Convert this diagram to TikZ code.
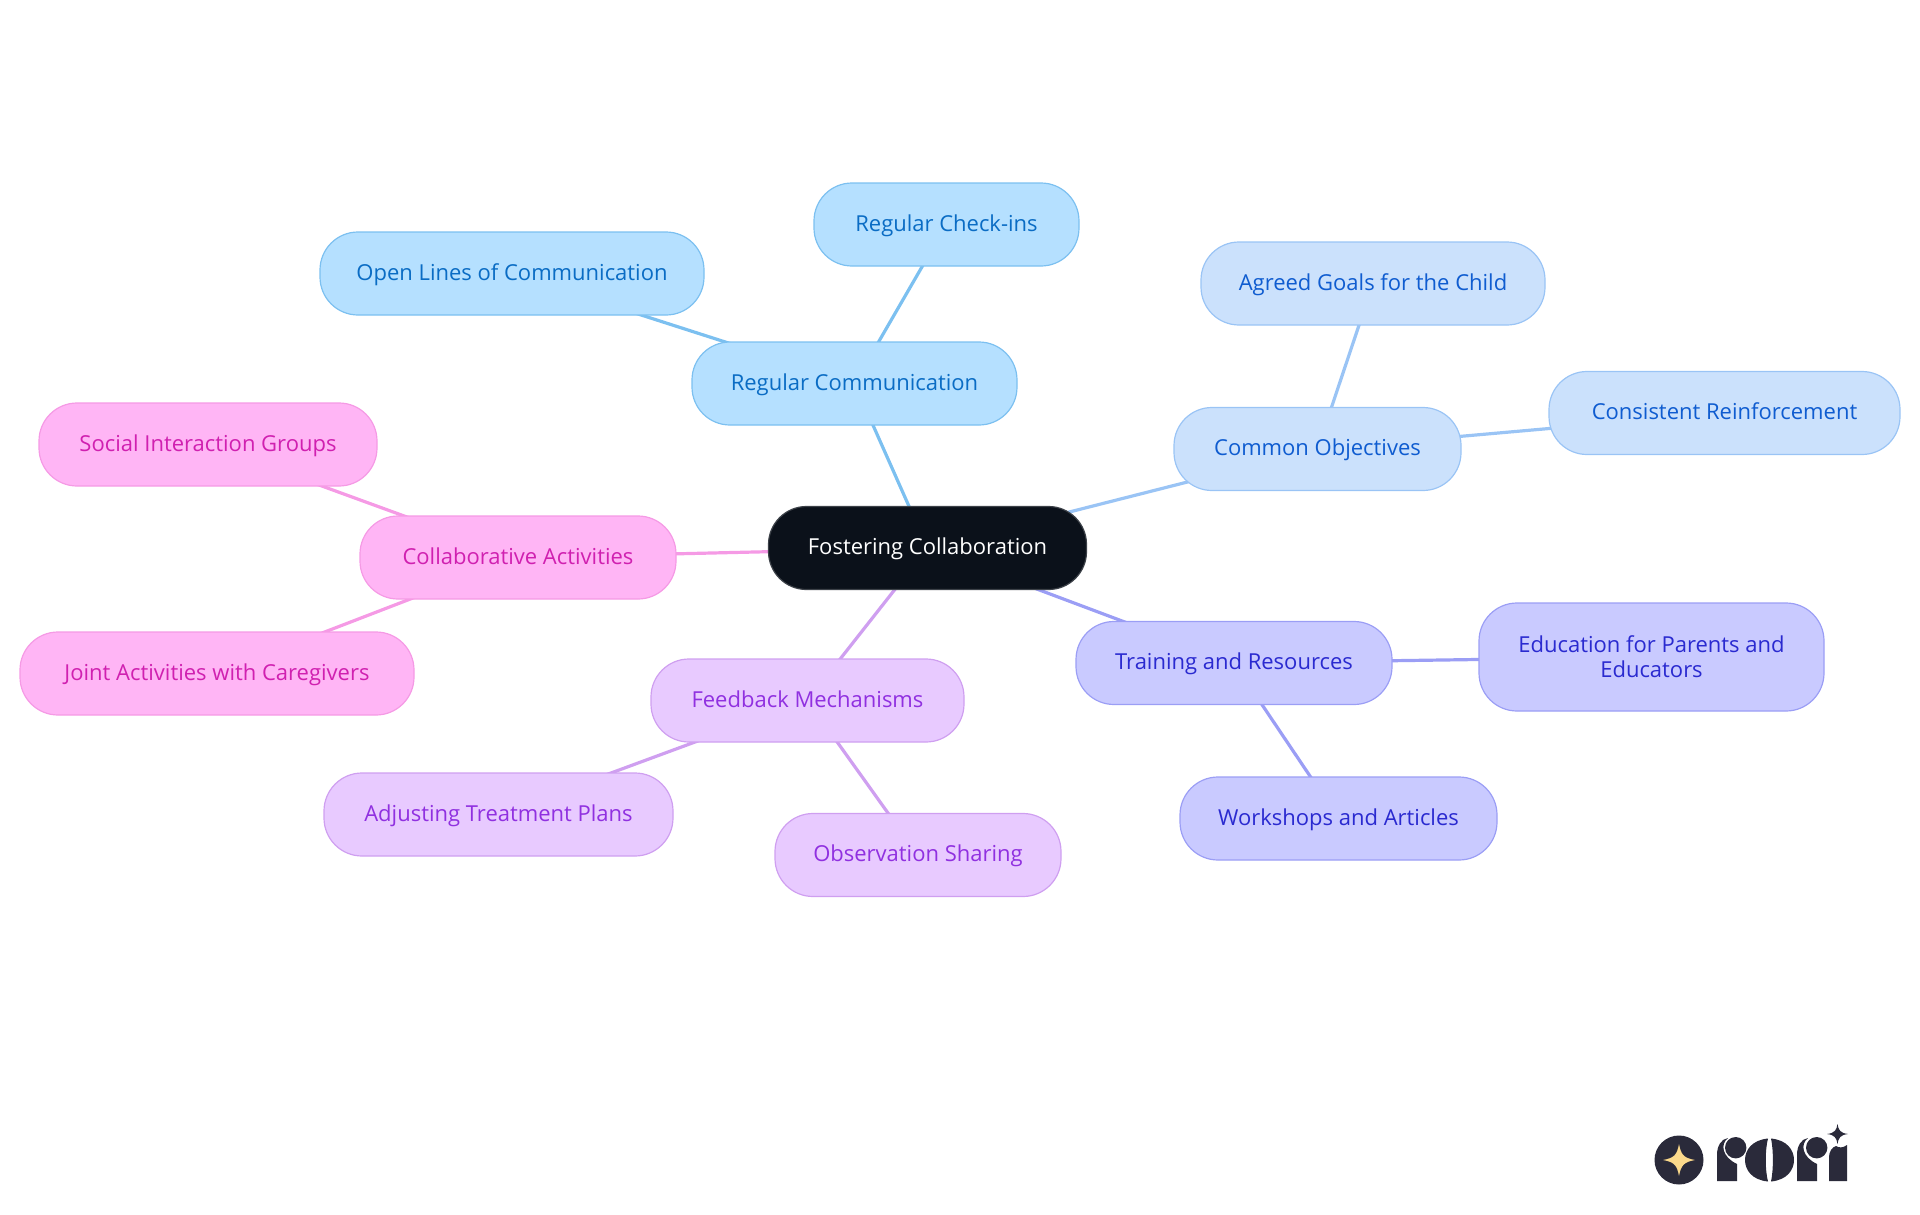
\documentclass[tikz,border=0pt]{standalone}
\usepackage{fontspec}
\setmainfont{Open Sans}
\usetikzlibrary{backgrounds}
\definecolor{rootfill}{HTML}{0B111A}
\definecolor{commfill}{HTML}{B5E0FF}
\definecolor{commline}{HTML}{7CC0F0}
\definecolor{commtext}{HTML}{0A6CC4}
\definecolor{goalfill}{HTML}{CBE1FC}
\definecolor{goalline}{HTML}{9AC4F5}
\definecolor{goaltext}{HTML}{0F5CD0}
\definecolor{trainfill}{HTML}{C9CAFF}
\definecolor{trainline}{HTML}{9B9EF5}
\definecolor{traintext}{HTML}{2A2AD0}
\definecolor{feedfill}{HTML}{E8CAFF}
\definecolor{feedline}{HTML}{CF9FF0}
\definecolor{feedtext}{HTML}{9030E0}
\definecolor{collabfill}{HTML}{FFB5F5}
\definecolor{collabline}{HTML}{F59AE5}
\definecolor{collabtext}{HTML}{D020B0}
\definecolor{logodark}{HTML}{2A2A3A}
\definecolor{logostar}{HTML}{FBD98B}
\begin{document}
\begin{tikzpicture}[
    x=1pt, y=-1pt,
    topic/.style={rectangle, rounded corners=38pt, line width=1.2pt, inner sep=0pt, align=center, minimum height=83pt, text height=18.5pt, text depth=5pt, font=\fontsize{22}{25}\selectfont},
    root/.style={topic, draw=rootfill!80!white, fill=rootfill, text=white},
    comm/.style={topic, draw=commline, fill=commfill, text=commtext},
    goal/.style={topic, draw=goalline, fill=goalfill, text=goaltext},
    train/.style={topic, draw=trainline, fill=trainfill, text=traintext},
    feed/.style={topic, draw=feedline, fill=feedfill, text=feedtext},
    collab/.style={topic, draw=collabline, fill=collabfill, text=collabtext},
    link/.style={line width=3.2pt}
]
\useasboundingbox (0,0) rectangle (1920,1215);

% Centre
\node[root, minimum width=318pt, text height=17pt] (fostering) at (927.5,548) {Fostering Collaboration};

% Regular communication
\node[comm, minimum width=325pt] (regular) at (854.5,383.5) {Regular Communication};
\node[comm, minimum width=265pt] (checkins) at (946.5,224.5) {Regular Check-ins};
\node[comm, minimum width=384pt] (openlines) at (512,273.5) {Open Lines of Communication};

% Common objectives
\node[goal, minimum width=287pt] (common) at (1317.5,449) {Common Objectives};
\node[goal, minimum width=344pt] (agreed) at (1373,283.5) {Agreed Goals for the Child};
\node[goal, minimum width=351pt] (consistent) at (1724.5,413) {Consistent Reinforcement};

% Training
\node[train, minimum width=316pt] (training) at (1234,663) {Training and Resources};
\node[train, minimum width=345pt, minimum height=108pt, text height=, text depth=] (education) at (1651.5,657) {Education for Parents and\\Educators};
\node[train, minimum width=317pt] (workshops) at (1338.5,818.5) {Workshops and Articles};

% Feedback
\node[feed, minimum width=313pt] (feedback) at (807.5,700.5) {Feedback Mechanisms};
\node[feed, minimum width=349pt] (adjusting) at (498.5,814.5) {Adjusting Treatment Plans};
\node[feed, minimum width=286pt] (observation) at (918,855) {Observation Sharing};

% Collaborative activities
\node[collab, minimum width=316pt] (collaborative) at (518,557.5) {Collaborative Activities};
\node[collab, minimum width=338pt] (social) at (208,444.5) {Social Interaction Groups};
\node[collab, minimum width=394pt] (joint) at (217,673.5) {Joint Activities with Caregivers};

% Links behind the nodes
\begin{scope}[on background layer]
\draw[link, commline] (fostering.center) -- (regular.center);
\draw[link, commline] (regular.center) -- (checkins.center);
\draw[link, commline] (regular.center) -- (openlines.center);
\draw[link, goalline] (fostering.center) -- (common.center);
\draw[link, goalline] (common.center) -- (agreed.center);
\draw[link, goalline] (common.center) -- (consistent.center);
\draw[link, trainline] (fostering.center) -- (training.center);
\draw[link, trainline] (training.center) -- (education.center);
\draw[link, trainline] (training.center) -- (workshops.center);
\draw[link, feedline] (fostering.center) -- (feedback.center);
\draw[link, feedline] (feedback.center) -- (adjusting.center);
\draw[link, feedline] (feedback.center) -- (observation.center);
\draw[link, collabline] (fostering.center) -- (collaborative.center);
\draw[link, collabline] (collaborative.center) -- (social.center);
\draw[link, collabline] (collaborative.center) -- (joint.center);
\end{scope}

% Logo
\fill[logodark] (1679,1160) circle (24.5);
\fill[logostar] (1679,1144) .. controls (1681,1155) and (1684,1158) .. (1695,1160) .. controls (1684,1162) and (1681,1165) .. (1679,1176) .. controls (1677,1165) and (1674,1162) .. (1663,1160) .. controls (1674,1158) and (1677,1155) .. (1679,1144) -- cycle;
% first r
\fill[logodark] (1717,1181) -- (1717,1155) .. controls (1717,1146) and (1721,1139) .. (1728,1138) .. controls (1720,1144) and (1722,1157) .. (1737,1164) -- (1737,1181) -- cycle;
\fill[logodark] (1735.7,1147.7) circle (10.7);
% o
\fill[logodark] (1768,1138.5) .. controls (1752,1140) and (1745,1150) .. (1745,1160) .. controls (1745,1170) and (1752,1180) .. (1768,1181.5) .. controls (1765,1170) and (1765,1150) .. (1768,1138.5) -- cycle;
\fill[logodark] (1771,1138.5) .. controls (1787,1140) and (1794,1150) .. (1794,1160) .. controls (1794,1170) and (1787,1180) .. (1771,1181.5) .. controls (1773.5,1170) and (1773.5,1150) .. (1771,1138.5) -- cycle;
% second r
\fill[logodark] (1797,1181) -- (1797,1155) .. controls (1797,1146) and (1801,1139) .. (1808,1138) .. controls (1800,1144) and (1802,1157) .. (1817,1164) -- (1817,1181) -- cycle;
\fill[logodark] (1816.7,1147.7) circle (10.7);
% i
\fill[logodark] (1829,1181) -- (1829,1157) .. controls (1829,1152) and (1832,1147) .. (1836,1146) .. controls (1839,1148) and (1843,1148) .. (1847,1145) -- (1847,1181) -- cycle;
\fill[logodark] (1837.5,1124) .. controls (1838.5,1130) and (1840,1133) .. (1848,1134) .. controls (1840,1135) and (1838.5,1138) .. (1837.5,1144) .. controls (1836.5,1138) and (1835,1135) .. (1827,1134) .. controls (1835,1133) and (1836.5,1130) .. (1837.5,1124) -- cycle;

\end{tikzpicture}
\end{document}
